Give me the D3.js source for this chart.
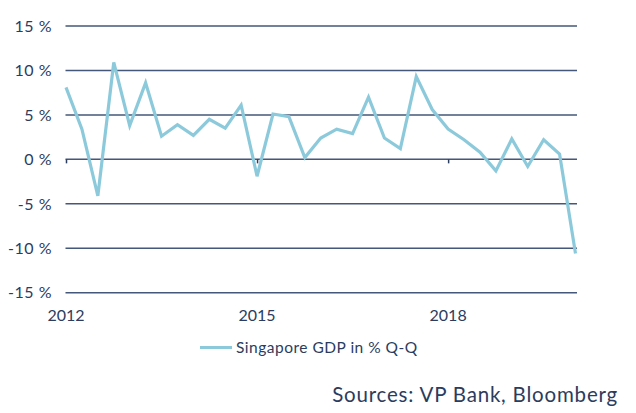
<!DOCTYPE html>
<html>
<head>
<meta charset="utf-8">
<script src="https://cdn.jsdelivr.net/npm/d3@7"></script>
<style>
  html, body { margin: 0; padding: 0; background: #ffffff; }
  svg { display: block; }
  text { font-family: Lato, "Open Sans", sans-serif; fill: #2b3c5e; }
</style>
</head>
<body>
<svg id="chart" width="636" height="413"></svg>
<script>
// Quarterly periods Q1 2012 .. Q1 2020
const quarters = [
  "2012Q1","2012Q2","2012Q3","2012Q4",
  "2013Q1","2013Q2","2013Q3","2013Q4",
  "2014Q1","2014Q2","2014Q3","2014Q4",
  "2015Q1","2015Q2","2015Q3","2015Q4",
  "2016Q1","2016Q2","2016Q3","2016Q4",
  "2017Q1","2017Q2","2017Q3","2017Q4",
  "2018Q1","2018Q2","2018Q3","2018Q4",
  "2019Q1","2019Q2","2019Q3","2019Q4",
  "2020Q1"
];
// Singapore GDP in % Q-Q (annualised)
const gdpQoQ = [
  8.1, 3.4, -4.1, 10.9,
  3.8, 8.6, 2.6, 3.9,
  2.7, 4.5, 3.5, 6.1,
  -1.9, 5.1, 4.8, 0.2,
  2.4, 3.4, 2.9, 7.0,
  2.4, 1.2, 9.3, 5.6,
  3.4, 2.2, 0.8, -1.3,
  2.3, -0.8, 2.2, 0.6,
  -10.6
];
const yTicks = [-15, -10, -5, 0, 5, 10, 15];
const xTickLabels = { "2012Q1": "2012", "2015Q1": "2015", "2018Q1": "2018" };
const seriesName = "Singapore GDP in % Q-Q";
const sourceText = "Sources: VP Bank, Bloomberg";

const svg = d3.select("#chart");
const gridLeft = 65.5, gridRight = 577;

const x = d3.scalePoint().domain(quarters).range([66, 575.5]);
const y = d3.scaleLinear().domain([-15, 15]).range([292.7, 26]);

const gridColor = "#45577a";
const lineColor = "#8ccadb";

// gridlines
svg.append("g").selectAll("line").data(yTicks).join("line")
  .attr("x1", gridLeft).attr("x2", gridRight)
  .attr("y1", d => y(d)).attr("y2", d => y(d))
  .attr("stroke", gridColor).attr("stroke-width", 1.5);

// y labels
svg.append("g").selectAll("text").data(yTicks).join("text")
  .attr("x", 52).attr("y", d => y(d)).attr("dy", "0.36em")
  .attr("text-anchor", "end").attr("font-size", 16)
  .attr("letter-spacing", 0.5)
  .text(d => d + " %");

// x axis ticks on zero line
const xAxis = d3.axisBottom(x)
  .tickValues(Object.keys(xTickLabels))
  .tickFormat(d => xTickLabels[d])
  .tickSize(4).tickSizeOuter(0);
const gx = svg.append("g").attr("transform", `translate(0,${y(0)})`).call(xAxis);
gx.select(".domain").remove();
gx.selectAll(".tick line").attr("stroke", "#2b3c5e").attr("stroke-width", 1.5);
gx.selectAll(".tick text").remove();

// x labels at bottom
svg.append("g").selectAll("text").data(Object.keys(xTickLabels)).join("text")
  .attr("x", d => x(d)).attr("y", 321)
  .attr("text-anchor", "middle").attr("font-size", 16)
  .text(d => xTickLabels[d]);

// line
const line = d3.line().x((d, i) => x(quarters[i])).y(d => y(d));
svg.append("path").datum(gdpQoQ)
  .attr("d", line).attr("fill", "none")
  .attr("stroke", lineColor).attr("stroke-width", 3.2)
  .attr("stroke-linejoin", "miter");

// legend
svg.append("line").attr("x1", 200).attr("x2", 232).attr("y1", 347.5).attr("y2", 347.5)
  .attr("stroke", lineColor).attr("stroke-width", 3);
svg.append("text").attr("x", 236).attr("y", 353).attr("font-size", 15.5)
  .attr("letter-spacing", 0.5)
  .text(seriesName);

// source
svg.append("text").attr("x", 618).attr("y", 402).attr("text-anchor", "end")
  .attr("font-size", 20.5).attr("letter-spacing", 0.8).text(sourceText);
</script>
</body>
</html>
